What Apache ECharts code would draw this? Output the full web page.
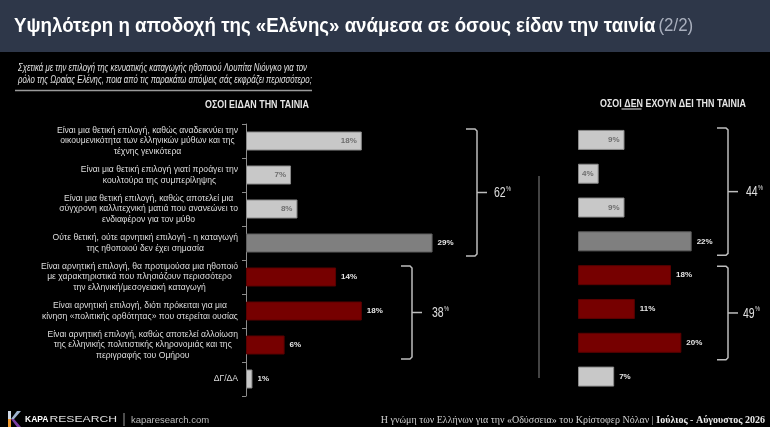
<!DOCTYPE html>
<html><head><meta charset="utf-8">
<script src="https://cdn.jsdelivr.net/npm/echarts@6/dist/echarts.min.js"></script>
<style>html,body{margin:0;padding:0;background:#000;}#c{width:770px;height:427px;}</style>
</head><body><div id="c"></div>
<script>
// ---------- DATA ----------
const categories = [
  'Είναι μια θετική επιλογή, καθώς αναδεικνύει την\nοικουμενικότητα των ελληνικών μύθων και της\nτέχνης γενικότερα',
  'Είναι μια θετική επιλογή γιατί προάγει την\nκουλτούρα της συμπερίληψης',
  'Είναι μια θετική επιλογή, καθώς αποτελεί μια\nσύγχρονη καλλιτεχνική ματιά που ανανεώνει το\nενδιαφέρον για τον μύθο',
  'Ούτε θετική, ούτε αρνητική επιλογή - η καταγωγή\nτης ηθοποιού δεν έχει σημασία',
  'Είναι αρνητική επιλογή, θα προτιμούσα μια ηθοποιό\nμε χαρακτηριστικά που πλησιάζουν περισσότερο\nτην ελληνική/μεσογειακή καταγωγή',
  'Είναι αρνητική επιλογή, διότι πρόκειται για μια\nκίνηση «πολιτικής ορθότητας» που στερείται ουσίας',
  'Είναι αρνητική επιλογή, καθώς αποτελεί αλλοίωση\nτης ελληνικής πολιτιστικής κληρονομιάς και της\nπεριγραφής του Ομήρου',
  'ΔΓ/ΔΑ'
];
const stance = ['pos', 'pos', 'pos', 'neutral', 'neg', 'neg', 'neg', 'dk'];
const sawValues = [18, 7, 8, 29, 14, 18, 6, 1];
const notSawValues = [9, 4, 9, 22, 18, 11, 20, 7];
const groupRanges = [[0, 3], [4, 6]];
const sawGroupTotals = [62, 38];
const notSawGroupTotals = [44, 49];
const titleMain = 'Υψηλότερη η αποδοχή της «Ελένης» ανάμεσα σε όσους είδαν την ταινία';
const titlePart = '(2/2)';
const subtitleLines = [
  'Σχετικά με την επιλογή της κενυατικής καταγωγής ηθοποιού Λουπίτα Νιόνγκο για τον',
  'ρόλο της Ωραίας Ελένης, ποια από τις παρακάτω απόψεις σάς εκφράζει περισσότερο;'
];
const panelSaw = 'ΟΣΟΙ ΕΙΔΑΝ ΤΗΝ ΤΑΙΝΙΑ';
const panelNotSaw = ['ΟΣΟΙ ', 'ΔΕΝ', ' ΕΧΟΥΝ ΔΕΙ ΤΗΝ ΤΑΙΝΙΑ'];
const footerSource = 'Η γνώμη των Ελλήνων για την «Οδύσσεια» του Κρίστοφερ Νόλαν | ';
const footerDate = 'Ιούλιος - Αύγουστος 2026';

// ---------- STYLE ----------
const SANS = "'Liberation Sans',Arial,sans-serif";
const SERIF = "'Liberation Serif','DejaVu Serif',serif";
const fills = {pos: '#c8c8c8', dk: '#c8c8c8', neutral: '#7f7f7f', neg: '#760000'};
const borders = {pos: '#8a8a8a', dk: '#8a8a8a', neutral: '#5f5f5f', neg: '#5a0000'};

const mctx = document.createElement('canvas').getContext('2d');
function textWidth(str, font) { mctx.font = font; return mctx.measureText(str).width; }

function buildData(values) {
  return values.map((v, i) => {
    const s = stance[i];
    const inside = s === 'pos';
    return {
      value: v,
      itemStyle: {color: fills[s], borderColor: borders[s], borderWidth: 1},
      label: {
        show: true,
        position: inside ? 'insideRight' : 'right',
        distance: 5,
        formatter: '{c}%',
        color: inside ? '#6e6e6e' : '#e6e6e6',
        fontSize: 8,
        fontWeight: 'bold',
        fontFamily: SANS
      }
    };
  });
}

const chart = echarts.init(document.getElementById('c'));
chart.setOption({
  backgroundColor: '#000',
  animation: false,
  grid: [
    {left: 246, top: 124, width: 193, height: 272},
    {left: 578, top: 123, width: 155, height: 270.5}
  ],
  xAxis: [
    {type: 'value', gridIndex: 0, min: 0, max: 30, show: false},
    {type: 'value', gridIndex: 1, min: 0, max: 30, show: false}
  ],
  yAxis: [
    {
      type: 'category', gridIndex: 0, data: categories, inverse: true,
      axisLine: {show: true, lineStyle: {color: '#8c8c8c', width: 1}},
      axisTick: {show: true, length: 4, lineStyle: {color: '#8c8c8c'}},
      axisLabel: {
        margin: 8,
        formatter: v => v.split('\n').map(l => '{c|' + l + '}').join('\n'),
        rich: {c: {align: 'center', fontSize: 8.6, lineHeight: 10.7, color: '#dedede', fontFamily: SANS}}
      }
    },
    {type: 'category', gridIndex: 1, data: categories, inverse: true, show: false}
  ],
  series: [
    {type: 'bar', xAxisIndex: 0, yAxisIndex: 0, barWidth: 19, data: buildData(sawValues)},
    {type: 'bar', xAxisIndex: 1, yAxisIndex: 1, barWidth: 20, data: buildData(notSawValues)}
  ]
});

// ---------- DECORATIONS (brackets placed from axis positions) ----------
function bracket(id, axisIdx, range, x, total, offT, offB, labelGap) {
  const t = chart.convertToPixel({yAxisIndex: axisIdx}, range[0]) + offT;
  const b = chart.convertToPixel({yAxisIndex: axisIdx}, range[1]) + offB;
  const m = (t + b) / 2;
  const numFont = '15px ' + SANS;
  const nw = textWidth(String(total), numFont) * 0.7;
  const lx = x + labelGap;
  return [
    {type: 'polyline', id: id + 'p', shape: {points: [[x - 11, t], [x - 2, t], [x, t + 2], [x, b - 2], [x - 2, b], [x - 11, b]]},
      style: {fill: null, stroke: '#bdbdbd', lineWidth: 1.5}},
    {type: 'line', id: id + 'm', shape: {x1: x, y1: m, x2: x + 10, y2: m}, style: {stroke: '#bdbdbd', lineWidth: 1.5}},
    {type: 'text', id: id + 't', x: lx, y: m + 0.5, scaleX: 0.7, style: {
      text: String(total), verticalAlign: 'middle', fontSize: 15, fill: '#e0e0e0', fontFamily: SANS
    }},
    {type: 'text', id: id + 'q', x: lx + nw + 0.3, y: m - 3.5, scaleX: 0.8, style: {
      text: '%', verticalAlign: 'middle', fontSize: 7, fill: '#e0e0e0', fontFamily: SANS
    }}
  ];
}

const g = [];
g.push({type: 'rect', id: 'hdr', z: -1, shape: {x: 0, y: 0, width: 770, height: 52}, style: {fill: '#2e3749'}});
g.push({type: 'text', id: 'ttl', x: 14, y: 26, scaleX: 0.89, style: {
  text: '{a|' + titleMain + '} {b|' + titlePart + '}', verticalAlign: 'middle',
  rich: {
    a: {fontSize: 21, fontWeight: 'bold', color: '#ffffff', fill: '#ffffff', fontFamily: SANS},
    b: {fontSize: 19, color: '#a9afbd', fill: '#a9afbd', fontFamily: SANS}
  }
}});
g.push({type: 'text', id: 'sub', x: 18, y: 62, scaleX: 0.78, style: {
  text: subtitleLines.join('\n'), fontSize: 10, lineHeight: 12, fontStyle: 'italic',
  fill: '#e0e0e0', fontFamily: SANS
}});
g.push({type: 'line', id: 'subl', shape: {x1: 15, y1: 90.5, x2: 312, y2: 90.5}, style: {stroke: '#9a9a9a', lineWidth: 1.5}});
g.push({type: 'text', id: 'ph1', x: 257, y: 105, scaleX: 0.89, style: {
  text: panelSaw, align: 'center', verticalAlign: 'middle', fontSize: 10, fontWeight: 'bold', fill: '#e6e6e6', fontFamily: SANS
}});
g.push({type: 'text', id: 'ph2', x: 673, y: 104, scaleX: 0.89, style: {
  text: panelNotSaw.join(''), align: 'center', verticalAlign: 'middle', fontSize: 10, fontWeight: 'bold', fill: '#e6e6e6', fontFamily: SANS
}});
g.push({type: 'line', id: 'ph2u', shape: {x1: 621.5, y1: 109, x2: 641.5, y2: 109}, style: {stroke: '#e6e6e6', lineWidth: 1}});
g.push({type: 'line', id: 'sep', shape: {x1: 539, y1: 176, x2: 539, y2: 378}, style: {stroke: '#5a5a5a', lineWidth: 1.5}});

g.push(...bracket('b1', 0, groupRanges[0], 477, sawGroupTotals[0], -12, 13, 17));
g.push(...bracket('b2', 0, groupRanges[1], 412, sawGroupTotals[1], -11, 14, 20));
g.push(...bracket('b3', 1, groupRanges[0], 728, notSawGroupTotals[0], -12, 14, 18));
g.push(...bracket('b4', 1, groupRanges[1], 728, notSawGroupTotals[1], -9, 17, 15));

// footer logo
g.push({type: 'polygon', id: 'k1', shape: {points: [[8, 411], [11, 411], [11, 419], [8, 419]]}, style: {fill: '#cfd8e6'}});
g.push({type: 'polygon', id: 'k2', shape: {points: [[8, 419], [11, 419], [11, 427], [8, 427]]}, style: {fill: '#f29a2e'}});
g.push({type: 'polygon', id: 'k3', shape: {points: [[11, 419], [17, 411], [21, 411], [14, 419]]}, style: {fill: '#9fb3cf'}});
g.push({type: 'polygon', id: 'k4', shape: {points: [[11, 419], [14, 419], [21, 427], [17, 427]]}, style: {fill: '#7b3fa3'}});
const kapaW = textWidth('KAPA', 'bold 8.5px ' + SANS);
g.push({type: 'text', id: 'f1a', x: 25, y: 420, style: {
  text: 'KAPA', verticalAlign: 'middle', fontSize: 8.5, fontWeight: 'bold', fill: '#ffffff', fontFamily: SANS
}});
g.push({type: 'text', id: 'f1b', x: 26 + kapaW, y: 420, scaleX: 1.35, style: {
  text: 'RESEARCH', verticalAlign: 'middle', fontSize: 9, fill: '#e0e0e0', fontFamily: SANS
}});
g.push({type: 'line', id: 'f2', shape: {x1: 124, y1: 413, x2: 124, y2: 426}, style: {stroke: '#9a9a9a', lineWidth: 1}});
g.push({type: 'text', id: 'f3', x: 131, y: 420, style: {
  text: 'kaparesearch.com', verticalAlign: 'middle', fontSize: 9.5, fill: '#bdbdbd', fontFamily: SANS
}});
const dateW = textWidth(footerDate, 'bold 10px ' + SERIF);
g.push({type: 'text', id: 'f4b', x: 765, y: 420, style: {
  text: footerDate, align: 'right', verticalAlign: 'middle', fontSize: 10, fontWeight: 'bold', fill: '#e8e8e8', fontFamily: SERIF
}});
g.push({type: 'text', id: 'f4a', x: 765 - dateW, y: 420, style: {
  text: footerSource, align: 'right', verticalAlign: 'middle', fontSize: 10, fill: '#cfcfcf', fontFamily: SERIF
}});

chart.setOption({graphic: g});
</script>
</body></html>
